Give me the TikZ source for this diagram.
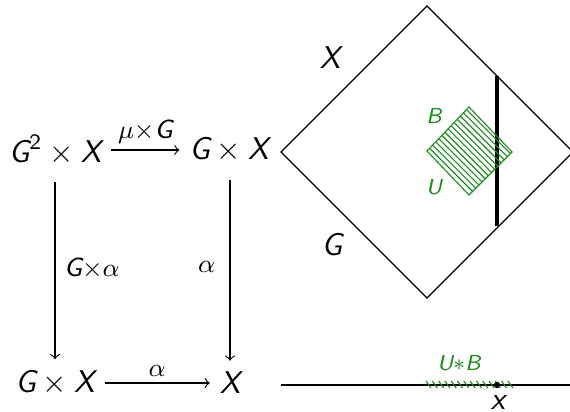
\documentclass[tikz,border=0pt]{standalone}
\usepackage{amsmath}
\newcommand{\sv}[1]{\text{\normalfont\sffamily\slshape #1}}
\newcommand{\su}[1]{\text{\normalfont\sffamily #1}}
\definecolor{hgreen}{RGB}{30,140,30}
\tikzset{
  obj/.style={inner sep=0pt, outer sep=0pt, font=\fontsize{11}{13}\selectfont},
  arr/.style={->, shorten >=3.5pt, shorten <=3.5pt},
  lab/.style={inner sep=2pt, font=\fontsize{9.2}{11}\selectfont},
  glab/.style={text=hgreen, inner sep=0pt, font=\fontsize{7.6}{9}\selectfont},
}
\begin{document}
\begin{tikzpicture}[x=0.35pt,y=-0.35pt]
\useasboundingbox (0,0) rectangle (570,411);
% commutative square
\node[obj] (a) at (55,150) {$\sv{G}^{\su{2}}\times\sv{X}$};
\node[obj] (b) at (229,150) {$\sv{G}\times\sv{X}$};
\node[obj] (c) at (55,383) {$\sv{G}\times\sv{X}$};
\node[obj] (d) at (230,383) {$\sv{X}$};
\draw[arr] (a.east) -- node[above, lab] {$\mu{\times}\sv{G}$} (a.east -| b.west);
\draw[arr] (c.east) -- node[above, lab] {$\alpha$} (c.east -| d.west);
\draw[arr, shorten <=6pt, shorten >=4pt] (a.south -| c.north) -- node[right, lab, xshift=1pt] {$\sv{G}{\times}\alpha$} (c.north);
\draw[arr, shorten <=6pt, shorten >=4pt] (b.south -| d.north) -- node[left, lab, xshift=-3pt] {$\alpha$} (d.north);
% diamond
\coordinate (dl) at (281,152);
\coordinate (dt) at (427,6);
\coordinate (dr) at (573,152);
\coordinate (db) at (427,298);
\draw (dl) -- (dt) -- (dr) -- (db) -- cycle;
\node[font=\fontsize{11}{13}\selectfont] (lx) at (330,58) {$\sv{X}$};
\node[font=\fontsize{11}{13}\selectfont] (lg) at (332,245) {$\sv{G}$};
\coordinate (t1) at (497,76);
\coordinate (t2) at (497,226);
\draw[line width=1.1pt] (t1) -- (t2);
% green square
\coordinate (st) at (469,107);
\coordinate (sr) at (512,152);
\coordinate (sb) at (469,195);
\coordinate (sl) at (427,151);
\draw[hgreen] (st) -- (sr) -- (sb) -- (sl) -- cycle;
\begin{scope}
\clip (st) -- (sr) -- (sb) -- (sl) -- cycle;
\foreach \k in {1,...,13} {
  \pgfmathsetmacro{\c}{275+6.3*\k}
  \draw[hgreen] (\c+90,90) -- (\c+210,210);
}
\end{scope}
\node[glab] (lb) at (434,116) {$\sv{B}$};
\node[glab] (lu) at (434,187) {$\sv{U}$};
% bottom line
\coordinate (l1) at (281,385);
\coordinate (l2) at (572,385);
\draw (l1) -- (l2);
\foreach \x in {426,432.3,...,510} {
  \draw[hgreen] (\x,381) -- (\x+5,388);
}
\fill (497,385) circle (1.1pt);
\node[glab] (lub) at (459,363) {$\sv{U}{\ast}\sv{B}$};
\node[font=\fontsize{11}{13}\selectfont] (lxx) at (498,403) {$\sv{x}$};
\end{tikzpicture}
\end{document}
